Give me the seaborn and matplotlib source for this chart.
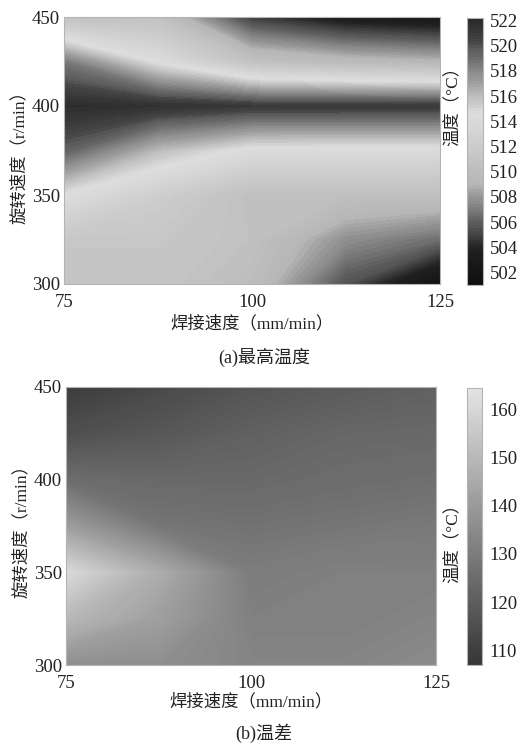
import numpy as np
import matplotlib
matplotlib.use("Agg")
import matplotlib.pyplot as plt
from matplotlib.colors import ListedColormap
import seaborn as sns

sns.set_style("white")
plt.rcParams["font.family"] = ["Liberation Serif", "Noto Sans CJK SC", "DejaVu Sans"]

# process parameters
weld_speed = [75, 87.5, 100, 112.5, 125]          # mm/min
rot_speed = [300, 325, 350, 375, 400, 425, 450]   # r/min

# peak temperature (°C); rows follow rot_speed, columns follow weld_speed
peak_temp = [
    [511.0, 511.0, 510.0, 505.5, 501.5],   # 300
    [511.3, 511.3, 510.5, 507.7, 506.5],   # 325
    [514.5, 512.3, 510.3, 510.3, 510.3],   # 350
    [519.5, 516.0, 514.1, 514.0, 514.0],   # 375
    [521.8, 521.5, 521.0, 521.0, 521.0],   # 400
    [518.5, 514.3, 510.5, 509.5, 509.0],   # 425
    [510.5, 510.5, 504.7, 503.0, 502.5],   # 450
]

# temperature difference (°C)
temp_diff = [
    [136.0, 136.0, 133.0, 133.0, 135.0],   # 300
    [150.0, 141.5, 131.5, 131.5, 133.0],   # 325
    [161.0, 146.0, 130.0, 131.5, 131.5],   # 350
    [141.0, 128.0, 127.0, 128.0, 129.0],   # 375
    [125.0, 123.5, 123.5, 125.0, 126.0],   # 400
    [115.0, 118.0, 121.0, 123.0, 123.5],   # 425
    [109.0, 113.0, 117.0, 119.0, 121.0],   # 450
]

x_ticks = [75, 100, 125]
y_ticks = [300, 350, 400, 450]
peak_ticks = list(range(502, 523, 2))
diff_ticks = [110, 120, 130, 140, 150, 160]
peak_range = (501.0, 522.2)
diff_range = (106.9, 164.5)

# jet reduced to its luminance
jet_rgb = matplotlib.colormaps["jet"](np.linspace(0, 1, 256))[:, :3]
lum = jet_rgb @ np.array([0.299, 0.587, 0.114])
jet_gray = ListedColormap(np.repeat(lum[:, None], 3, axis=1))
diff_gray = sns.blend_palette(["#363636", "#e4e4e4"], as_cmap=True)

W, H = 522, 743
fig = plt.figure(figsize=(W / 100, H / 100), dpi=100)


def box(l, t, r, b):
    return [l / W, 1 - b / H, (r - l) / W, (b - t) / H]


cjk = ["Liberation Serif", "Noto Sans CJK SC"]
edge = "#b4b4b4"


def panel(ax_rect, cax_rect, z, cmap, vrange, cticks):
    ax = fig.add_axes(box(*ax_rect))
    cax = fig.add_axes(box(*cax_rect))
    X, Y = np.meshgrid(weld_speed, rot_speed)
    levels = np.linspace(vrange[0], vrange[1], 90)
    cs = ax.contourf(X, Y, np.array(z), levels=levels, cmap=cmap)
    ax.set_xlim(75, 125)
    ax.set_ylim(300, 450)
    ax.set_xticks(x_ticks)
    ax.set_yticks(y_ticks)
    ax.tick_params(axis="x", pad=7)
    ax.tick_params(direction="in", length=0, labelsize=13.5, colors="#222222")
    ax.tick_params(axis="y", pad=3)
    for s in ax.spines.values():
        s.set_color(edge)
        s.set_linewidth(0.8)
    cb = fig.colorbar(cs, cax=cax, ticks=cticks)
    cb.outline.set_edgecolor(edge)
    cb.outline.set_linewidth(0.8)
    cax.tick_params(direction="in", length=2.5, width=0.6, color="#888888",
                    labelsize=13.5, pad=5, labelcolor="#222222")
    return ax, cax


panel((64, 17, 440, 284), (467, 18, 483, 285), peak_temp, jet_gray, peak_range, peak_ticks)
panel((66, 387, 436, 665), (467, 388, 482, 665), temp_diff, diff_gray, diff_range, diff_ticks)


def t(x, y, s, rot=0, size=12.5):
    fig.text(x / W, 1 - y / H, s, ha="center", va="center", rotation=rot,
             fontsize=size, family=cjk, color="#222222")


t(252, 324, "焊接速度（mm/min）")
t(20, 153, "旋转速度（r/min）", rot=90)
t(453, 102, "温度（°C）", rot=90)
t(264, 357, "(a)最高温度", size=13)

t(251, 702, "焊接速度（mm/min）")
t(22, 527, "旋转速度（r/min）", rot=90)
t(453, 539, "温度（°C）", rot=90)
t(264, 733, "(b)温差", size=13)

fig.savefig("out.png", dpi=100, facecolor="white")
